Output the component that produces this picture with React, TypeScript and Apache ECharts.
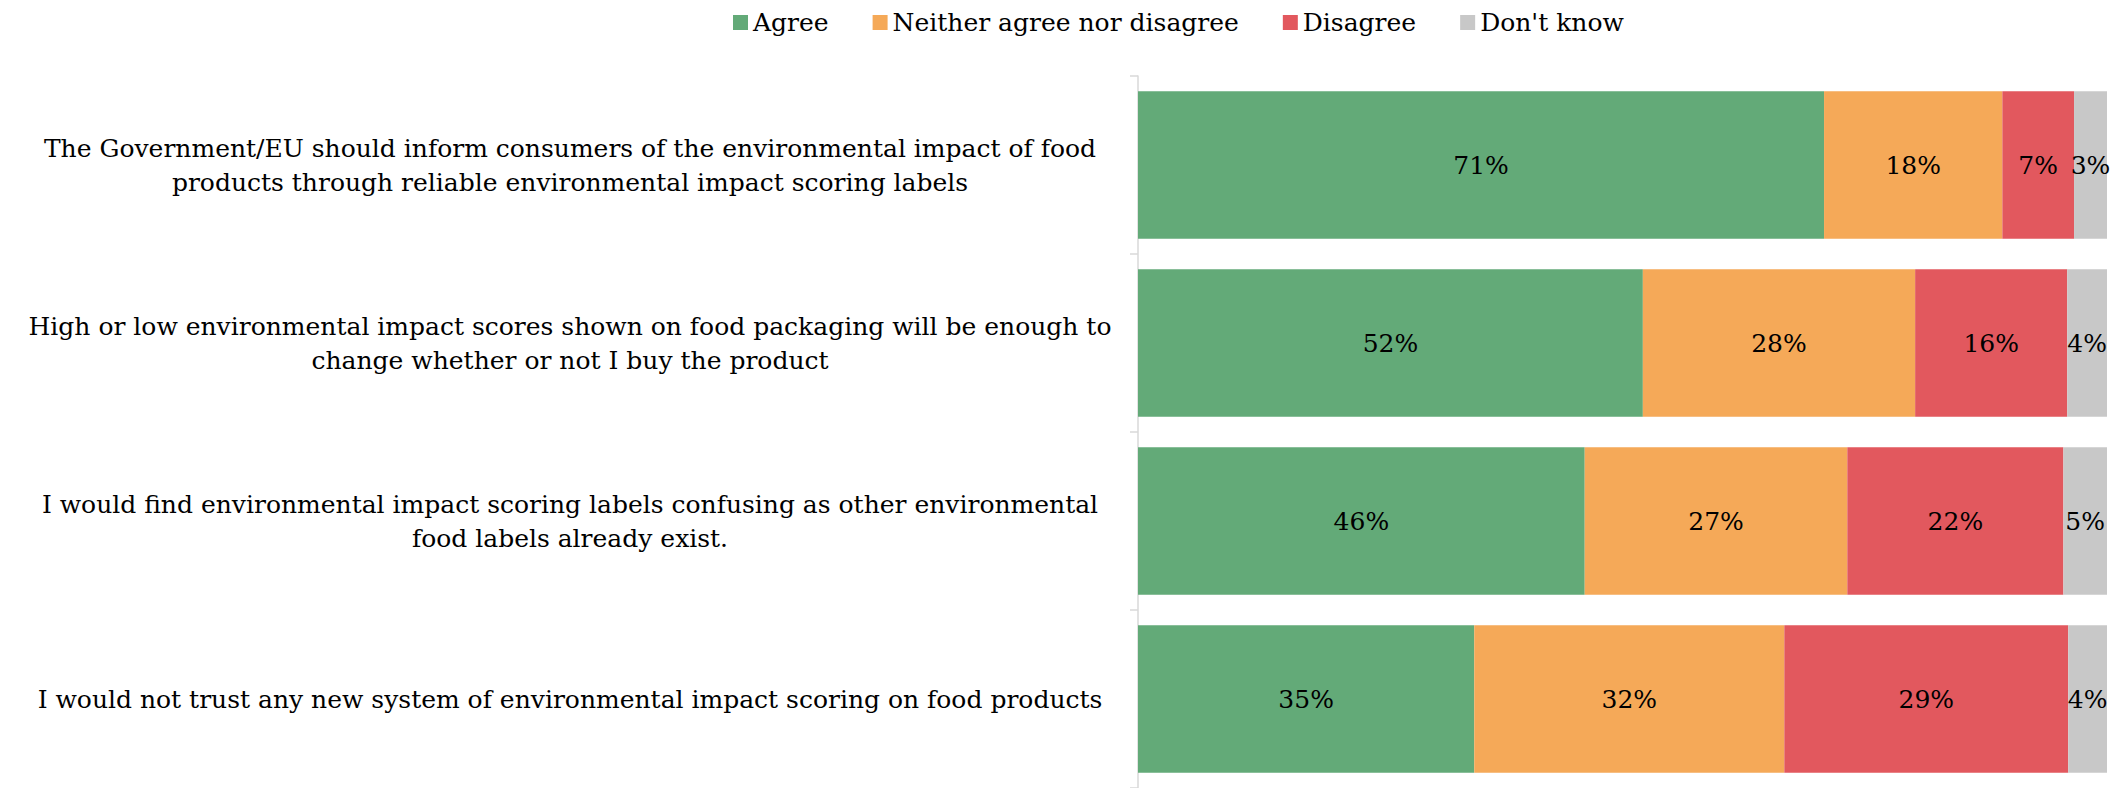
import React, { useEffect, useRef } from "react";
import * as echarts from "echarts";

const categories = [
  "The Government/EU should inform consumers of the environmental impact of food\nproducts through reliable environmental impact scoring labels",
  "High or low environmental impact scores shown on food packaging will be enough to\nchange whether or not I buy the product",
  "I would find environmental impact scoring labels confusing as other environmental\nfood labels already exist.",
  "I would not trust any new system of environmental impact scoring on food products",
];

const seriesNames = ["Agree", "Neither agree nor disagree", "Disagree", "Don't know"];
const agree = [70.8, 52.1, 46.1, 34.7];
const neither = [18.4, 28.1, 27.1, 32.0];
const disagree = [7.4, 15.7, 22.3, 29.3];
const dontKnow = [3.4, 4.1, 4.5, 4.0];
const colors = ["#63AA78", "#F5A958", "#E2585E", "#C8C8C8"];

const FONT = "DejaVu Serif";

export default function App() {
  const ref = useRef<HTMLDivElement>(null);
  useEffect(() => {
    if (!ref.current) return;
    const chart = echarts.init(ref.current, null, { renderer: "svg" });
    const values = [agree, neither, disagree, dontKnow];
    chart.setOption({
      animation: false,
      backgroundColor: "#ffffff",
      textStyle: { fontFamily: FONT },
      legend: {
        top: 5,
        left: 728,
        itemWidth: 15,
        itemHeight: 15,
        itemGap: 44,
        icon: "rect",
        textStyle: { fontFamily: FONT, fontSize: 25, color: "#000" },
        data: seriesNames,
      },
      grid: { left: 1138, right: 11, top: 76, bottom: 0, containLabel: false },
      xAxis: {
        type: "value",
        min: 0,
        max: 100,
        show: false,
      },
      yAxis: {
        type: "category",
        inverse: true,
        data: categories,
        axisLine: { show: true, lineStyle: { color: "#D9D9D9", width: 1.5 } },
        axisTick: { show: true, length: 8, lineStyle: { color: "#D9D9D9", width: 1.5 } },
        axisLabel: {
          align: "center",
          margin: 568,
          fontFamily: FONT,
          fontSize: 25,
          lineHeight: 34,
          color: "#000",
          padding: [0, 0, 4, 0],
        },
      },
      series: seriesNames.map((name, i) => ({
        name,
        type: "bar",
        stack: "total",
        barCategoryGap: "17%",
        data: values[i],
        itemStyle: { color: colors[i] },
        label: {
          show: true,
          position: "inside",
          color: "#000",
          fontFamily: FONT,
          fontSize: 25,
          formatter: (p: any) => Math.round(p.value) + "%",
        },
      })),
    });
    return () => chart.dispose();
  }, []);
  return (
    <div
      ref={ref}
      style={{ position: "fixed", left: 0, top: 0, width: 2118, height: 788 }}
    />
  );
}
